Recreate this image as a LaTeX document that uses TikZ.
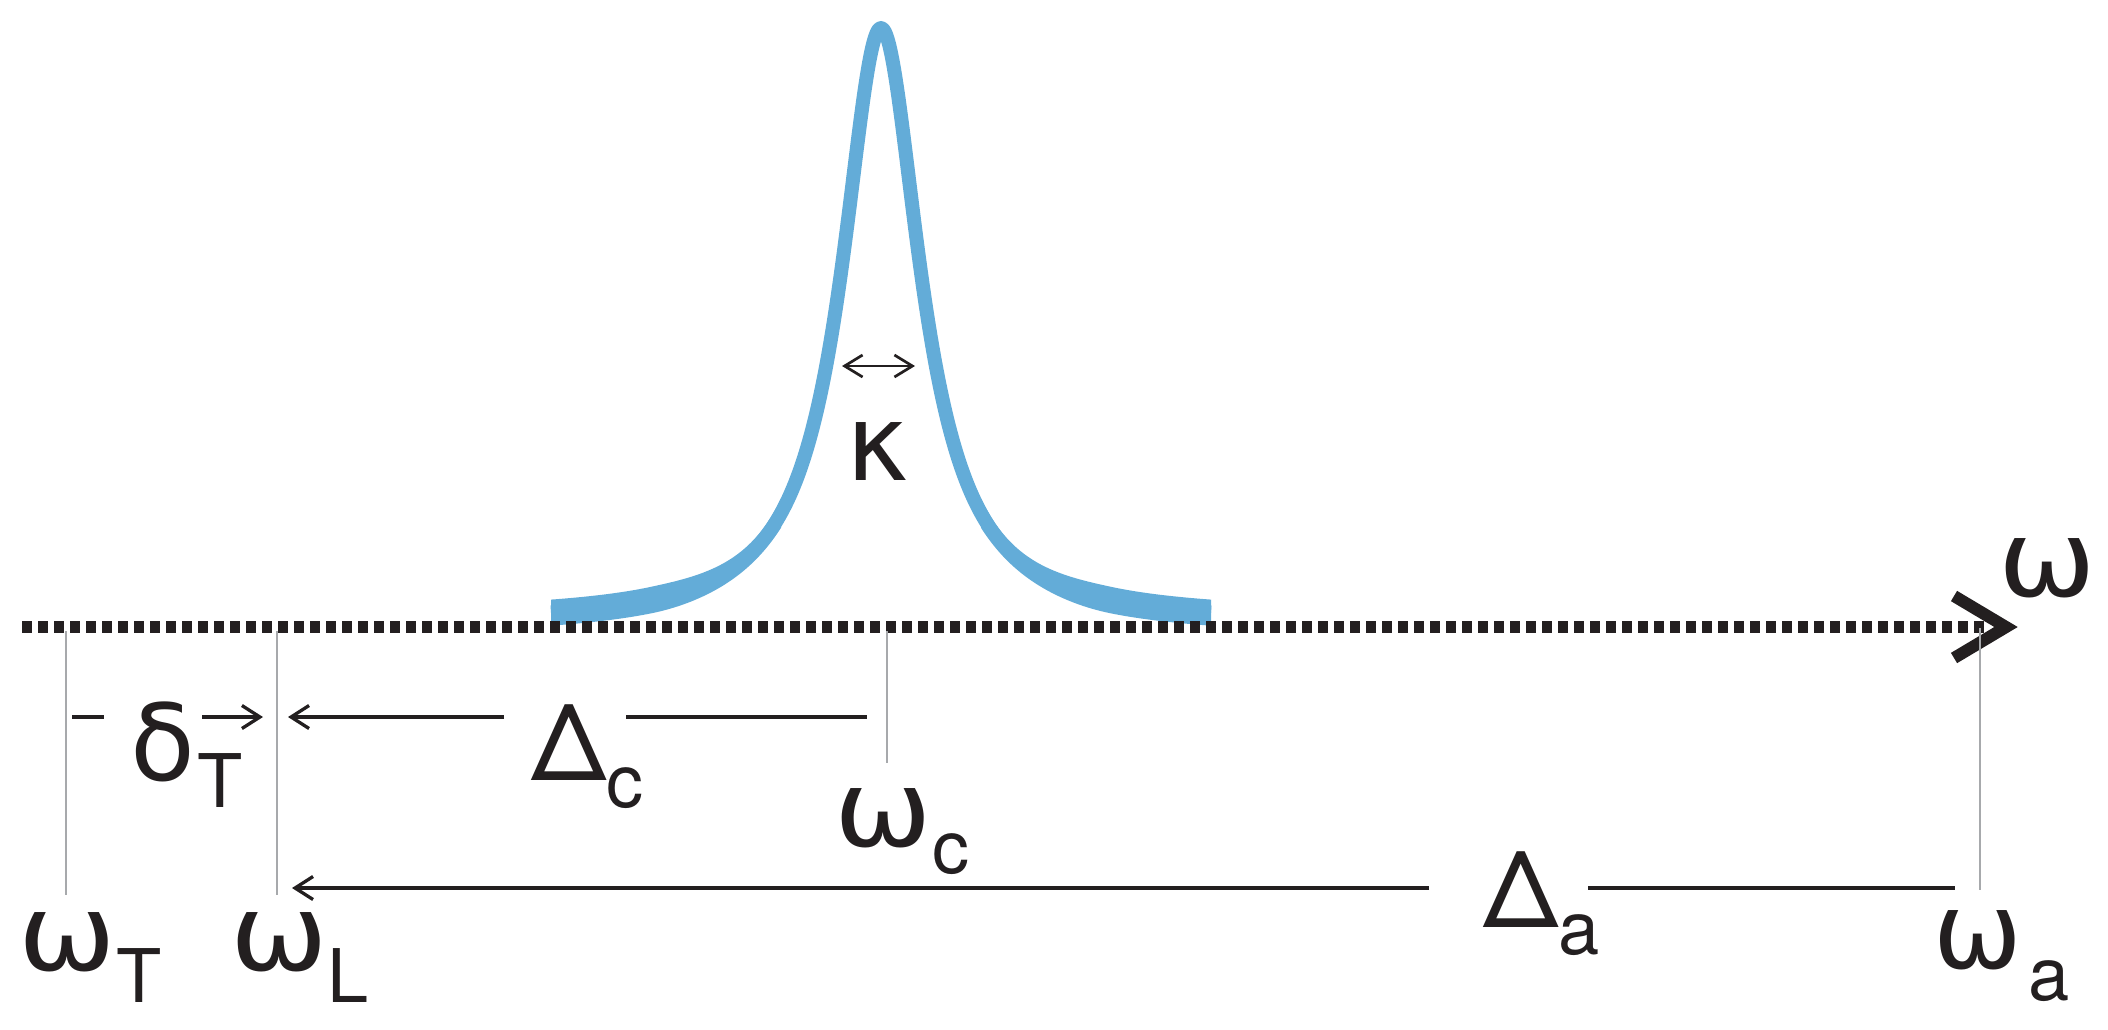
\documentclass[tikz,border=0pt]{standalone}
\usepackage{fontspec}
\usepackage{graphicx}
\setmainfont{TeX Gyre Heros}
\newfontfamily\grk{DejaVu Sans}
\usetikzlibrary{arrows.meta}
\definecolor{ink}{RGB}{35,31,32}
\definecolor{lblue}{RGB}{99,172,216}
\definecolor{tickgray}{RGB}{167,169,172}
\newcommand\mainsz{\fontsize{53pt}{60pt}\selectfont}
\newcommand\subsz{\fontsize{37pt}{42pt}\selectfont}
\newcommand\lbl[4][13.5pt]{{\mainsz #2}\kern#3\raisebox{-#1}{\subsz #4}}
\newcommand\wom{\scalebox{1.1}[1]{\grk ω}}
\begin{document}
\begin{tikzpicture}[x=0.5pt,y=-0.5pt,
  declare function={
    Cu(\x)=(\x-881)/48;
    Cq(\x)=1+Cu(\x)*Cu(\x);
    Cc(\x)=625-597/Cq(\x);
    Cs(\x)=24.875*Cu(\x)/Cq(\x)/Cq(\x);
    Ct(\x)=min(max((abs(\x-881)-100)/130,0),1);
    Cw(\x)=7+6*Ct(\x)*Ct(\x)*(3-2*Ct(\x));
    Ce(\x)=Cw(\x)*sqrt(1+Cs(\x)*Cs(\x));
  },
  lab/.style={inner sep=0pt, anchor=base west, text=ink},
  guide/.style={draw=tickgray, line width=1.35pt},
  dimline/.style={draw=ink, line width=1.65pt},
  barb/.style={-{Straight Barb[length=9pt,width=11.5pt]}},
  axisline/.style={draw=ink, line width=6pt, dash pattern=on 4.75pt off 3.25pt},
]
\useasboundingbox (0,0) rectangle (2108,1029);

% resonance curve: constant-width core plus widening tails
\draw[lblue, line width=7pt, line join=round, line cap=butt]
  plot[domain=551:1211, samples=331, smooth] (\x,{Cc(\x)});
\fill[lblue] plot[domain=551:781, samples=116] (\x,{Cc(\x)-Ce(\x)})
  -- plot[domain=781:551, samples=116] (\x,{Cc(\x)+Ce(\x)}) -- cycle;
\fill[lblue] plot[domain=981:1211, samples=116] (\x,{Cc(\x)-Ce(\x)})
  -- plot[domain=1211:981, samples=116] (\x,{Cc(\x)+Ce(\x)}) -- cycle;

% frequency axis
\coordinate (ax0) at (22,627);
\coordinate (ax1) at (1986,627);
\draw[axisline] (ax0) -- (ax1);
\coordinate (ch1) at (1954,596);
\coordinate (ch2) at (2006,627);
\coordinate (ch3) at (1954,658);
\draw[ink, line width=6pt, miter limit=10] (ch1) -- (ch2) -- (ch3);

% guide lines
\coordinate (gT1) at (66,631);  \coordinate (gT2) at (66,895);
\coordinate (gL1) at (277,631); \coordinate (gL2) at (277,895);
\coordinate (gc1) at (887,631); \coordinate (gc2) at (887,763);
\coordinate (ga1) at (1980,628); \coordinate (ga2) at (1980,890);
\draw[guide] (gT1) -- (gT2);
\draw[guide] (gL1) -- (gL2);
\draw[guide] (gc1) -- (gc2);
\draw[guide] (ga1) -- (ga2);

% labels
\node[lab] (dT) at (130,780) {\lbl{\grk δ}{1pt}{T}};
\node[lab] (Dc) at (531,780) {\lbl{Δ}{0pt}{c}};
\node[lab] (wc) at (834,846) {\lbl{\wom}{0pt}{c}};
\node[lab] (wT) at (18,970) {\lbl[16pt]{\wom}{0pt}{T}};
\node[lab] (wL) at (230,970) {\lbl[16pt]{\wom}{-0.5pt}{L}};
\node[lab] (Da) at (1483,927) {\lbl{Δ}{0pt}{a}};
\node[lab] (wa) at (1933,968) {\lbl[16pt]{\grk ω}{3pt}{a}};
\node[lab] (w) at (1998,596) {\mainsz\wom};
\node[lab] (kap) at (846,480) {\mainsz\grk κ};

% dimension arrows
\coordinate (dTs1) at (72,717);  \coordinate (dTs2) at (104,717);
\coordinate (dTa1) at (202,717); \coordinate (dTa2) at (263,717);
\coordinate (Dca1) at (504,717); \coordinate (Dca2) at (288,717);
\coordinate (Dcb1) at (626,717); \coordinate (Dcb2) at (867,717);
\coordinate (Daa1) at (1429,888); \coordinate (Daa2) at (292,888);
\coordinate (Dab1) at (1588,888); \coordinate (Dab2) at (1955,888);
\coordinate (k1) at (842,366); \coordinate (k2) at (915,366);
\draw[dimline] (dTs1) -- (dTs2);
\draw[dimline, barb] (dTa1) -- (dTa2);
\draw[dimline, barb] (Dca1) -- (Dca2);
\draw[dimline] (Dcb1) -- (Dcb2);
\draw[dimline, barb] (Daa1) -- (Daa2);
\draw[dimline] (Dab1) -- (Dab2);
\draw[draw=ink, line width=1.35pt, {Straight Barb[length=9pt,width=11pt]}-{Straight Barb[length=9pt,width=11pt]}] (k1) -- (k2);
\end{tikzpicture}
\end{document}
